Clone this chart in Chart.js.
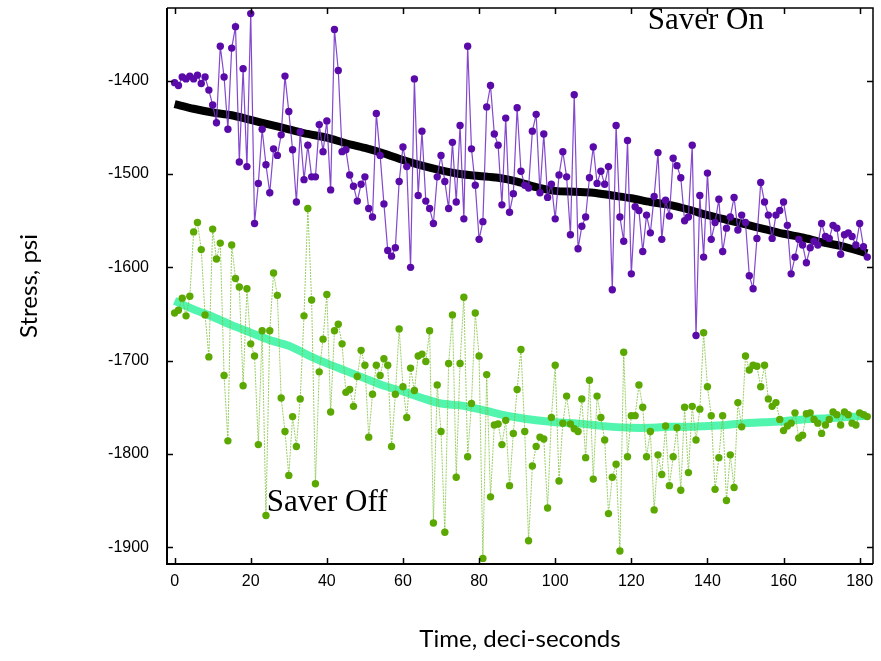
<!DOCTYPE html>
<html>
<head>
<meta charset="utf-8">
<script src="https://cdn.jsdelivr.net/npm/chart.js@4.4.1/dist/chart.umd.min.js"></script>
<style>
  html, body { margin: 0; padding: 0; background: #ffffff; }
  #wrap { width: 881px; height: 661px; }
</style>
</head>
<body>
<div id="wrap"><canvas id="c" width="881" height="661"></canvas></div>
<script>
// ---- Data ----
const time = Array.from({ length: 183 }, (_, i) => i); // deci-seconds, 0..182

const saverOn = [
  -1402, -1405, -1396, -1398, -1395, -1398, -1394, -1403, -1396, -1410,
  -1426, -1445, -1363, -1396, -1452, -1365, -1342, -1487, -1387, -1492,
  -1328, -1553, -1510, -1452, -1490, -1520, -1473, -1480, -1458, -1395,
  -1433, -1474, -1530, -1455, -1506, -1469, -1503, -1503, -1447, -1476,
  -1443, -1517, -1345, -1389, -1476, -1474, -1501, -1513, -1529, -1511,
  -1503, -1537, -1546, -1435, -1480, -1532, -1582, -1588, -1579, -1508,
  -1471, -1492, -1600, -1398, -1523, -1454, -1529, -1537, -1553, -1503,
  -1480, -1508, -1537, -1466, -1530, -1448, -1548, -1363, -1473, -1512,
  -1570, -1551, -1428, -1405, -1457, -1469, -1533, -1440, -1541, -1521,
  -1429, -1497, -1512, -1515, -1454, -1436, -1520, -1457, -1525, -1511,
  -1548, -1501, -1476, -1503, -1565, -1415, -1580, -1556, -1546, -1504,
  -1471, -1510, -1497, -1511, -1492, -1624, -1448, -1546, -1572, -1464,
  -1607, -1535, -1539, -1583, -1544, -1563, -1524, -1477, -1570, -1528,
  -1545, -1483, -1491, -1504, -1550, -1546, -1469, -1673, -1523, -1589,
  -1499, -1570, -1552, -1527, -1583, -1558, -1546, -1525, -1560, -1544,
  -1552, -1609, -1623, -1569, -1509, -1530, -1544, -1569, -1544, -1539,
  -1530, -1555, -1607, -1589, -1570, -1576, -1595, -1579, -1572, -1576,
  -1553, -1567, -1569, -1555, -1558, -1586, -1565, -1563, -1567, -1576,
  -1553, -1578, -1589
];

const saverOff = [
  -1649, -1646, -1633, -1652, -1631, -1562, -1552, -1581, -1651, -1696,
  -1559, -1591, -1574, -1716, -1786, -1576, -1612, -1621, -1727, -1623,
  -1682, -1695, -1790, -1668, -1866, -1668, -1606, -1630, -1740, -1776,
  -1823, -1760, -1792, -1741, -1652, -1537, -1635, -1832, -1712, -1677,
  -1629, -1755, -1668, -1661, -1682, -1734, -1731, -1749, -1717, -1689,
  -1705, -1782, -1736, -1705, -1716, -1698, -1705, -1792, -1736, -1666,
  -1728, -1761, -1708, -1732, -1695, -1693, -1701, -1668, -1874, -1726,
  -1776, -1884, -1703, -1651, -1825, -1703, -1632, -1803, -1746, -1649,
  -1695, -1912, -1715, -1846, -1769, -1768, -1790, -1764, -1834, -1778,
  -1731, -1688, -1776, -1893, -1813, -1792, -1782, -1784, -1858, -1761,
  -1705, -1829, -1767, -1738, -1768, -1773, -1776, -1741, -1804, -1721,
  -1827, -1738, -1761, -1785, -1864, -1825, -1811, -1904, -1691, -1803,
  -1759, -1759, -1726, -1750, -1803, -1776, -1860, -1801, -1822, -1770,
  -1834, -1803, -1772, -1839, -1750, -1820, -1749, -1785, -1752, -1670,
  -1728, -1759, -1838, -1804, -1759, -1850, -1801, -1836, -1745, -1771,
  -1695, -1710, -1705, -1706, -1728, -1705, -1741, -1749, -1745, -1763,
  -1775, -1770, -1767, -1756, -1783, -1780, -1757, -1756, -1763, -1767,
  -1778, -1769, -1763, -1755, -1758, -1769, -1755, -1758, -1767, -1769,
  -1756, -1758, -1760
];

// smoothed trend curves, read at these times
const trendTime = [0, 5, 10, 15, 20, 25, 30, 35, 40, 45, 50, 55, 60, 65, 70, 75, 80, 85, 90,
                   95, 100, 105, 110, 115, 120, 125, 130, 135, 140, 145, 150, 155, 160, 165, 170, 175, 182];
const trendOn = [-1425, -1430, -1434, -1437, -1442, -1447, -1452, -1457, -1461, -1467, -1472, -1478,
                 -1485, -1491, -1496, -1500, -1502, -1504, -1508, -1514, -1518, -1519, -1520, -1523,
                 -1526, -1530, -1533, -1538, -1544, -1549, -1554, -1559, -1564, -1568, -1573, -1577, -1585];
const trendOff = [-1636, -1645, -1653, -1662, -1670, -1678, -1684, -1694, -1703, -1711, -1719, -1727,
                  -1733, -1740, -1746, -1748, -1752, -1757, -1761, -1764, -1766, -1767, -1769, -1771,
                  -1772, -1772, -1771, -1771, -1770, -1769, -1767, -1766, -1765, -1763, -1762, -1761, -1759];

const xTicks = [0, 20, 40, 60, 80, 100, 120, 140, 160, 180];
const yTicks = [-1900, -1800, -1700, -1600, -1500, -1400];

const annotations = [
  { text: 'Saver On',  x: 124.3, y: -1344.6 },
  { text: 'Saver Off', x: 24.2,  y: -1861.6 }
];

// ---- helpers ----
const pts = (xs, ys) => xs.map((x, i) => ({ x: x, y: ys[i] }));
const noPad = s => { s.paddingTop = 0; s.paddingBottom = 0; s.paddingLeft = 0; s.paddingRight = 0; };

const framePlugin = {
  id: 'frame',
  afterDatasetsDraw(chart) {
    const { ctx, chartArea: a, scales } = chart;
    ctx.save();
    ctx.strokeStyle = '#000';
    // inward tick marks
    ctx.lineWidth = 1.5;
    const tl = 6;
    ctx.beginPath();
    xTicks.forEach(v => {
      const px = Math.round(scales.x.getPixelForValue(v)) + 0.5;
      ctx.moveTo(px, a.bottom); ctx.lineTo(px, a.bottom - tl);
      ctx.moveTo(px, a.top); ctx.lineTo(px, a.top + tl);
    });
    yTicks.forEach(v => {
      const py = Math.round(scales.y.getPixelForValue(v)) + 0.5;
      ctx.moveTo(a.left, py); ctx.lineTo(a.left + tl, py);
      ctx.moveTo(a.right, py); ctx.lineTo(a.right - tl, py);
    });
    ctx.stroke();
    // box
    ctx.lineWidth = 2;
    ctx.beginPath();
    ctx.moveTo(a.left, a.top); ctx.lineTo(a.left, a.bottom); ctx.lineTo(a.right, a.bottom);
    ctx.stroke();
    ctx.lineWidth = 1.5;
    ctx.beginPath();
    ctx.moveTo(a.left, a.top); ctx.lineTo(a.right, a.top); ctx.lineTo(a.right, a.bottom);
    ctx.stroke();
    // text annotations
    ctx.fillStyle = '#000';
    ctx.font = '31px "Liberation Serif", "Times New Roman", serif';
    ctx.textBaseline = 'alphabetic';
    ctx.textAlign = 'left';
    annotations.forEach(an => {
      ctx.fillText(an.text, scales.x.getPixelForValue(an.x), scales.y.getPixelForValue(an.y));
    });
    ctx.restore();
  }
};

const tickFont = { family: '"Liberation Sans", Arial, sans-serif', size: 16 };
const titleFont = { family: 'Lato, "Open Sans", sans-serif', size: 24 };

new Chart(document.getElementById('c'), {
  type: 'scatter',
  data: {
    datasets: [
      {
        label: 'Saver On',
        data: pts(time, saverOn),
        showLine: true,
        borderColor: 'rgba(118, 52, 200, 0.9)',
        borderWidth: 1.2,
        pointRadius: 3.7,
        pointBorderWidth: 0,
        pointBackgroundColor: '#5a0aa8',
        pointHoverRadius: 3.7,
        order: 1
      },
      {
        label: 'Saver Off',
        data: pts(time, saverOff),
        showLine: true,
        borderColor: 'rgba(120, 190, 50, 0.75)',
        borderWidth: 1,
        borderDash: [2, 1],
        pointRadius: 3.7,
        pointBorderWidth: 0,
        pointBackgroundColor: '#5aa800',
        pointHoverRadius: 3.7,
        order: 1
      },
      {
        label: 'Saver On trend',
        data: pts(trendTime, trendOn),
        showLine: true,
        borderColor: '#000000',
        borderWidth: 8,
        pointRadius: 0,
        tension: 0.3,
        order: 2
      },
      {
        label: 'Saver Off trend',
        data: pts(trendTime, trendOff),
        showLine: true,
        borderColor: '#52f5ae',
        borderWidth: 8,
        pointRadius: 0,
        tension: 0.3,
        order: 2
      }
    ]
  },
  options: {
    responsive: false,
    devicePixelRatio: 1,
    animation: false,
    layout: { padding: { top: 8, right: 8, left: 0, bottom: 0 } },
    plugins: { legend: { display: false }, tooltip: { enabled: false } },
    scales: {
      x: {
        type: 'linear',
        min: -2,
        max: 183.5,
        afterBuildTicks: s => { s.ticks = xTicks.map(v => ({ value: v })); },
        afterFit: s => { s.height = 661 - 564; noPad(s); },
        grid: { display: false, drawTicks: false },
        border: { display: false },
        ticks: { font: tickFont, color: '#000', padding: 8, maxRotation: 0, autoSkip: false,
                 callback: v => String(v) },
        title: { display: true, text: 'Time, deci-seconds', font: titleFont, color: '#000',
                 padding: { top: 0, bottom: 7 } }
      },
      y: {
        type: 'linear',
        min: -1918,
        max: -1322,
        afterBuildTicks: s => { s.ticks = yTicks.map(v => ({ value: v })); },
        afterFit: s => { s.width = 167; noPad(s); },
        grid: { display: false, drawTicks: false },
        border: { display: false },
        ticks: { font: tickFont, color: '#000', padding: 18, autoSkip: false,
                 callback: v => String(v) },
        title: { display: true, text: 'Stress, psi', font: titleFont, color: '#000',
                 padding: { top: 15, bottom: 0 } }
      }
    }
  },
  plugins: [framePlugin]
});
</script>
</body>
</html>
